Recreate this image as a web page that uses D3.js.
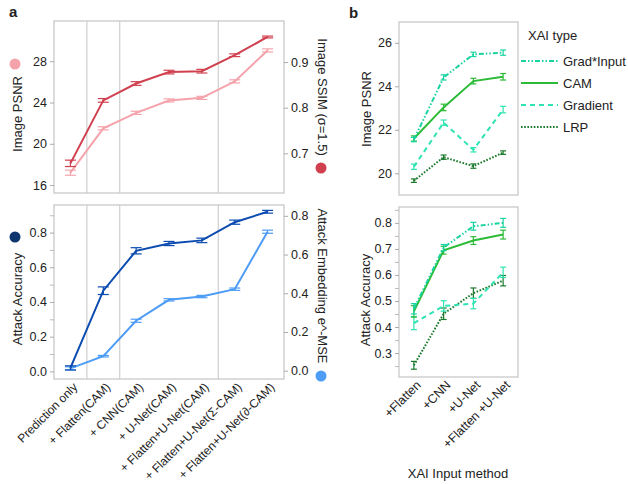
<!DOCTYPE html>
<html><head><meta charset="utf-8">
<script src="https://cdn.jsdelivr.net/npm/d3@7"></script>
<style>
body{margin:0;background:#fff;}
text{font-family:"Liberation Sans",Arial,Helvetica,sans-serif;fill:#222;}
</style></head>
<body><svg id="c" width="628" height="484"></svg>
<script>
// ---------- Data: panel a ----------
const catsA = ["Prediction only","+ Flatten(CAM)","+ CNN(CAM)","+ U-Net(CAM)","+ Flatten+U-Net(CAM)","+ Flatten+U-Net(Σ-CAM)","+ Flatten+U-Net(∂-CAM)"];
const psnr = [17.2, 21.5, 23.0, 24.2, 24.45, 26.05, 29.05];
const psnrErr = [0.25, 0.15, 0.15, 0.15, 0.15, 0.15, 0.15];
const ssim = [0.678, 0.816, 0.853, 0.878, 0.880, 0.915, 0.955];
const ssimErr = [0.007, 0.004, 0.004, 0.004, 0.004, 0.003, 0.002];
const attackAcc = [0.02, 0.465, 0.695, 0.737, 0.755, 0.86, 0.92];
const attackAccErr = [0.012, 0.022, 0.018, 0.012, 0.013, 0.012, 0.008];
const embed = [0.012, 0.075, 0.258, 0.366, 0.383, 0.421, 0.718];
const embedErr = [0.008, 0.004, 0.008, 0.006, 0.006, 0.006, 0.008];
const psnrTicks = [16, 20, 24, 28];
const ssimTicks = [0.7, 0.8, 0.9];
const accTicks = [0.0, 0.2, 0.4, 0.6, 0.8];
const accMinor = [0.1, 0.3, 0.5, 0.7, 0.9];
const embTicks = [0.0, 0.2, 0.4, 0.6, 0.8];
// ---------- Data: panel b ----------
const catsB = ["+Flatten", "+CNN", "+U-Net", "+Flatten +U-Net"];
const xaiTypes = ["Grad*Input", "CAM", "Gradient", "LRP"];
const psnrB = {
  "Grad*Input": [21.55, 24.41, 25.47, 25.55],
  "CAM":        [21.6, 23.03, 24.24, 24.44],
  "Gradient":   [20.3, 22.33, 21.08, 22.93],
  "LRP":        [19.66, 20.74, 20.33, 20.95]
};
const psnrBErr = {
  "Grad*Input": [0.1, 0.12, 0.1, 0.12],
  "CAM":        [0.12, 0.15, 0.13, 0.15],
  "Gradient":   [0.12, 0.12, 0.1, 0.15],
  "LRP":        [0.08, 0.1, 0.1, 0.08]
};
const accB = {
  "Grad*Input": [0.47, 0.705, 0.787, 0.80],
  "CAM":        [0.46, 0.695, 0.732, 0.755],
  "Gradient":   [0.415, 0.481, 0.49, 0.61],
  "LRP":        [0.253, 0.451, 0.53, 0.578]
};
const accBErr = {
  "Grad*Input": [0.02, 0.012, 0.015, 0.017],
  "CAM":        [0.022, 0.015, 0.015, 0.017],
  "Gradient":   [0.025, 0.02, 0.02, 0.02],
  "LRP":        [0.015, 0.022, 0.02, 0.02]
};
const psnrBTicks = [20, 22, 24, 26];
const accBTicks = [0.3, 0.4, 0.5, 0.6, 0.7, 0.8];
const accBMinor = [0.25, 0.35, 0.45, 0.55, 0.65, 0.75, 0.85];

// ---------- Styles ----------
const col = {psnr:"#f5a3ab", ssim:"#d1404f", acc:"#0b4bb0", accDot:"#0d346c", emb:"#4d9cf5"};
const bStyle = {
  "Grad*Input": {c:"#19d3a0", dash:"5,2,1.5,2,1.5,2"},
  "CAM":        {c:"#2cbb36", dash:null},
  "Gradient":   {c:"#2fe3b2", dash:"5,4"},
  "LRP":        {c:"#1b7a2c", dash:"1.6,1.6"}
};
const frameCol = "#c9c9c9";

const svg = d3.select("#c");

function frame(x0, x1, y0, y1){
  svg.append("rect").attr("x",x0).attr("y",y0).attr("width",x1-x0).attr("height",y1-y0)
    .attr("fill","none").attr("stroke",frameCol).attr("stroke-width",1.3);
}
function yAxis(scale, x, side, ticks, fmt, minor){
  const ax = (side==="left"? d3.axisLeft(scale): d3.axisRight(scale)).tickValues(ticks).tickFormat(fmt).tickSize(4).tickPadding(3);
  const g = svg.append("g").attr("transform",`translate(${x},0)`).call(ax);
  g.select(".domain").remove();
  g.selectAll(".tick line").attr("stroke","#aaa");
  g.selectAll(".tick text").attr("font-size",12.5).attr("fill","#222").style("font-family","'Liberation Sans',Arial,sans-serif");
  if(minor){
    const m = (side==="left"? d3.axisLeft(scale): d3.axisRight(scale)).tickValues(minor).tickFormat("").tickSize(4);
    const g2 = svg.append("g").attr("transform",`translate(${x},0)`).call(m);
    g2.select(".domain").remove();
    g2.selectAll(".tick line").attr("stroke","#bbb");
  }
}
function series(x, y, cats, vals, errs, color, w, capW, dash){
  const pts = cats.map((c,i)=>[x(c), y(vals[i])]);
  svg.append("path").attr("d", d3.line()(pts)).attr("fill","none").attr("stroke",color)
    .attr("stroke-width",w).attr("stroke-dasharray",dash||null);
  cats.forEach((c,i)=>{
    const cx = x(c), lo = y(vals[i]-errs[i]), hi = y(vals[i]+errs[i]);
    const g = svg.append("g").attr("stroke",color).attr("stroke-width",1.2);
    g.append("line").attr("x1",cx).attr("x2",cx).attr("y1",lo).attr("y2",hi);
    g.append("line").attr("x1",cx-capW).attr("x2",cx+capW).attr("y1",lo).attr("y2",lo);
    g.append("line").attr("x1",cx-capW).attr("x2",cx+capW).attr("y1",hi).attr("y2",hi);
  });
}
function vtitle(text, x, y, rot, size){
  svg.append("text").attr("transform",`translate(${x},${y}) rotate(${rot})`)
    .attr("text-anchor","middle").attr("dominant-baseline","central").attr("font-size",size||13).text(text);
}

// ---------- Panel a ----------
const ax0=54, ax1=284;
const xA = d3.scalePoint().domain(catsA).range([ax0,ax1]).padding(0.5);
const bw = xA.step();
const gridX = [1,2,5].map(i=>ax0 + i*bw);

// top
const t0=21, t1=193;
const yPsnr = d3.scaleLinear().domain([15.23, 31.9]).range([t1,t0]);
const ySsim = d3.scaleLinear().domain([0.613, 0.99]).range([t1,t0]);
gridX.forEach(gx=>svg.append("line").attr("x1",gx).attr("x2",gx).attr("y1",t0).attr("y2",t1).attr("stroke","#cfcfcf").attr("stroke-width",1.2));
frame(ax0, ax1, t0, t1);
yAxis(yPsnr, ax0, "left", psnrTicks, d3.format("d"));
yAxis(ySsim, ax1, "right", ssimTicks, d3.format(".1f"));
series(xA, yPsnr, catsA, psnr, psnrErr, col.psnr, 2, 5.5);
series(xA, ySsim, catsA, ssim, ssimErr, col.ssim, 2, 5.5);

// bottom
const b0=205, b1=379;
const yAcc = d3.scaleLinear().domain([-0.044, 0.959]).range([b1,b0]);
const yEmb = d3.scaleLinear().domain([-0.043, 0.856]).range([b1,b0]);
gridX.forEach(gx=>svg.append("line").attr("x1",gx).attr("x2",gx).attr("y1",b0).attr("y2",b1).attr("stroke","#cfcfcf").attr("stroke-width",1.2));
frame(ax0, ax1, b0, b1);
yAxis(yAcc, ax0, "left", accTicks, d3.format(".1f"), accMinor);
yAxis(yEmb, ax1, "right", embTicks, d3.format(".1f"));
series(xA, yEmb, catsA, embed, embedErr, col.emb, 2, 5.5);
series(xA, yAcc, catsA, attackAcc, attackAccErr, col.acc, 2, 5.5);

// x labels a
catsA.forEach(c=>{
  svg.append("text").attr("transform",`translate(${xA(c)+5},${b1+6}) rotate(-45)`)
    .attr("text-anchor","end").attr("dominant-baseline","central").attr("font-size",12).text(c);
});

// titles a
vtitle("Image PSNR", 17, 114, -90);
svg.append("circle").attr("cx",15).attr("cy",64).attr("r",5.5).attr("fill",col.psnr);
vtitle("Attack Accuracy", 17, 299, -90);
svg.append("circle").attr("cx",15).attr("cy",237).attr("r",5.5).attr("fill",col.accDot);
vtitle("Image SSIM (σ=1.5)", 322, 97, 90);
svg.append("circle").attr("cx",321).attr("cy",168).attr("r",5.5).attr("fill",col.ssim);
vtitle("Attack Embedding e^-MSE", 322, 286, 90);
svg.append("circle").attr("cx",321).attr("cy",376).attr("r",5.5).attr("fill",col.emb);

svg.append("text").attr("x",9).attr("y",17).attr("font-size",15).attr("font-weight","bold").text("a");
svg.append("text").attr("x",349).attr("y",18).attr("font-size",15).attr("font-weight","bold").text("b");

// ---------- Panel b ----------
const bx0=399, bx1=518;
const xB = d3.scalePoint().domain(catsB).range([bx0,bx1]).padding(0.5);
const p0=22, p1=195;
const yPB = d3.scaleLinear().domain([19.0, 26.96]).range([p1,p0]);
frame(bx0,bx1,p0,p1);
yAxis(yPB, bx0, "left", psnrBTicks, d3.format("d"));
const q0=207, q1=377;
const yAB = d3.scaleLinear().domain([0.208, 0.861]).range([q1,q0]);
frame(bx0,bx1,q0,q1);
yAxis(yAB, bx0, "left", accBTicks, d3.format(".1f"), accBMinor);
["LRP","Gradient","CAM","Grad*Input"].forEach(t=>{
  const s = bStyle[t];
  series(xB, yPB, catsB, psnrB[t], psnrBErr[t], s.c, 2, 3, s.dash);
  series(xB, yAB, catsB, accB[t], accBErr[t], s.c, 2, 3, s.dash);
});
vtitle("Image PSNR", 366, 109, -90);
vtitle("Attack Accuracy", 365, 300, -90);
catsB.forEach(c=>{
  svg.append("text").attr("transform",`translate(${xB(c)+5},${q1+6}) rotate(-45)`)
    .attr("text-anchor","end").attr("dominant-baseline","central").attr("font-size",12.5).text(c);
});
svg.append("text").attr("x",458).attr("y",478).attr("text-anchor","middle").attr("font-size",13).text("XAI Input method");

// legend
svg.append("text").attr("x",528).attr("y",40).attr("font-size",13).text("XAI type");
xaiTypes.forEach((t,i)=>{
  const y = 61 + i*22;
  const s = bStyle[t];
  svg.append("line").attr("x1",521).attr("x2",558).attr("y1",y).attr("y2",y)
    .attr("stroke",s.c).attr("stroke-width",2).attr("stroke-dasharray",s.dash);
  svg.append("text").attr("x",563).attr("y",y).attr("dominant-baseline","central").attr("font-size",13).text(t);
});
</script></body></html>
